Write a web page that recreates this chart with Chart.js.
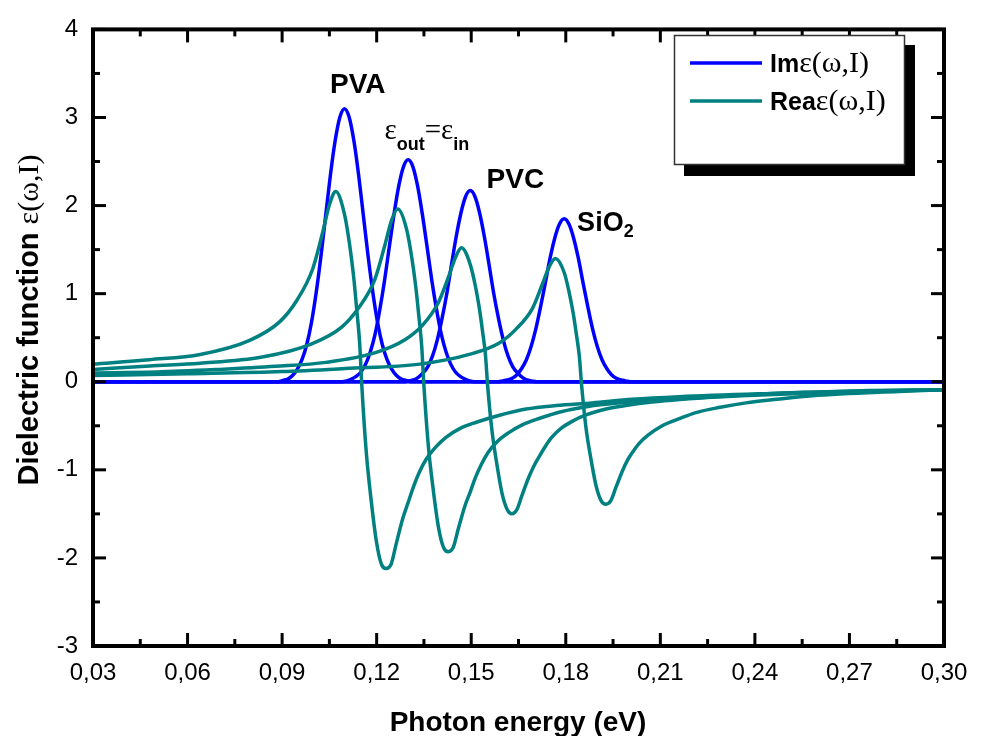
<!DOCTYPE html>
<html>
<head>
<meta charset="utf-8">
<script src="https://cdn.jsdelivr.net/npm/chart.js@4.4.0/dist/chart.umd.min.js"></script>
<style>
  body { margin: 0; background: #fff; }
  canvas { display: block; }
</style>
</head>
<body>
<canvas id="myChart" width="981" height="736"></canvas>
<script>
// axis ticks
const xTicks = [0.03, 0.06, 0.09, 0.12, 0.15, 0.18, 0.21, 0.24, 0.27, 0.30];
const xMinor = [0.045, 0.075, 0.105, 0.135, 0.165, 0.195, 0.225, 0.255, 0.285];
const yTicks = [-3, -2, -1, 0, 1, 2, 3, 4];
const yMinor = [-2.5, -1.5, -0.5, 0.5, 1.5, 2.5, 3.5];

// Im part, [photon energy, value]
const imPVA = [[0.03,0],[0.0888,0],[0.0903,0.015],[0.0918,0.03],[0.0933,0.07],[0.0948,0.14],[0.0963,0.25],[0.0978,0.42],[0.0993,0.67],[0.1008,1.01],[0.1023,1.42],[0.1038,1.88],[0.1053,2.34],[0.1068,2.73],[0.1083,3.00],[0.1098,3.10],[0.1113,3.00],[0.1128,2.73],[0.1143,2.34],[0.1158,1.88],[0.1173,1.42],[0.1188,1.01],[0.1203,0.67],[0.1218,0.42],[0.1233,0.25],[0.1248,0.14],[0.1263,0.07],[0.1278,0.03],[0.1293,0.015],[0.1308,0],[0.30,0]];
const imMid = [[0.03,0],[0.1090,0],[0.1105,0.01],[0.1120,0.03],[0.1135,0.06],[0.1150,0.11],[0.1165,0.20],[0.1180,0.34],[0.1195,0.54],[0.1210,0.82],[0.1225,1.15],[0.1240,1.53],[0.1255,1.90],[0.1270,2.22],[0.1285,2.44],[0.1300,2.52],[0.1315,2.44],[0.1330,2.22],[0.1345,1.90],[0.1360,1.53],[0.1375,1.15],[0.1390,0.82],[0.1405,0.54],[0.1420,0.34],[0.1435,0.20],[0.1450,0.11],[0.1465,0.06],[0.1480,0.03],[0.1495,0.01],[0.1510,0],[0.30,0]];
const imPVC = [[0.03,0],[0.1287,0],[0.1302,0.01],[0.1317,0.02],[0.1332,0.05],[0.1347,0.10],[0.1362,0.17],[0.1377,0.29],[0.1392,0.47],[0.1407,0.71],[0.1422,0.99],[0.1437,1.32],[0.1452,1.64],[0.1467,1.91],[0.1482,2.10],[0.1497,2.17],[0.1512,2.10],[0.1527,1.91],[0.1542,1.64],[0.1557,1.32],[0.1572,0.99],[0.1587,0.71],[0.1602,0.47],[0.1617,0.29],[0.1632,0.17],[0.1647,0.10],[0.1662,0.05],[0.1677,0.02],[0.1692,0.01],[0.1707,0],[0.30,0]];
const imSiO2 = [[0.03,0],[0.1585,0],[0.1600,0.01],[0.1615,0.02],[0.1630,0.04],[0.1645,0.08],[0.1660,0.15],[0.1675,0.25],[0.1690,0.40],[0.1705,0.60],[0.1720,0.85],[0.1735,1.12],[0.1750,1.40],[0.1765,1.63],[0.1780,1.79],[0.1795,1.85],[0.1810,1.79],[0.1825,1.63],[0.1840,1.40],[0.1855,1.12],[0.1870,0.85],[0.1885,0.60],[0.1900,0.40],[0.1915,0.25],[0.1930,0.15],[0.1945,0.08],[0.1960,0.04],[0.1975,0.02],[0.1990,0.01],[0.2005,0],[0.30,0]];

// Re part
const rePVA = [[0.030,0.20],[0.048,0.25],[0.064,0.31],[0.0797,0.47],[0.0892,0.68],[0.0946,0.92],[0.0997,1.28],[0.1029,1.70],[0.1051,2.02],[0.1070,2.16],[0.1098,1.90],[0.1114,1.56],[0.1127,1.19],[0.1137,0.81],[0.1146,0.44],[0.1153,-0.05],[0.1167,-0.80],[0.1183,-1.36],[0.1199,-1.81],[0.1215,-2.07],[0.1230,-2.12],[0.1246,-2.07],[0.1262,-1.84],[0.1283,-1.55],[0.1300,-1.37],[0.1315,-1.21],[0.1335,-1.03],[0.1357,-0.88],[0.1385,-0.75],[0.1421,-0.63],[0.1465,-0.53],[0.1516,-0.46],[0.1590,-0.38],[0.1674,-0.31],[0.1770,-0.27],[0.1884,-0.24],[0.2010,-0.20],[0.2160,-0.17],[0.2476,-0.13],[0.2762,-0.10],[0.300,-0.09]];
const reMid = [[0.030,0.14],[0.048,0.18],[0.064,0.21],[0.0837,0.28],[0.0994,0.43],[0.1089,0.62],[0.1143,0.84],[0.1194,1.16],[0.1226,1.55],[0.1248,1.84],[0.1267,1.96],[0.1295,1.73],[0.1311,1.42],[0.1324,1.08],[0.1334,0.74],[0.1343,0.40],[0.1350,-0.05],[0.1364,-0.73],[0.1380,-1.24],[0.1396,-1.65],[0.1412,-1.88],[0.1427,-1.93],[0.1443,-1.88],[0.1459,-1.67],[0.1480,-1.41],[0.1497,-1.25],[0.1512,-1.10],[0.1532,-0.94],[0.1554,-0.80],[0.1582,-0.68],[0.1618,-0.58],[0.1662,-0.49],[0.1713,-0.42],[0.1785,-0.34],[0.1871,-0.28],[0.1970,-0.24],[0.2081,-0.21],[0.2357,-0.16],[0.2650,-0.12],[0.300,-0.09]];
const rePVC = [[0.030,0.10],[0.050,0.11],[0.070,0.14],[0.0879,0.175],[0.1039,0.22],[0.1196,0.33],[0.1291,0.48],[0.1345,0.64],[0.1396,0.90],[0.1428,1.19],[0.1450,1.41],[0.1469,1.52],[0.1497,1.33],[0.1513,1.09],[0.1526,0.83],[0.1536,0.57],[0.1545,0.31],[0.1552,-0.04],[0.1566,-0.56],[0.1582,-0.95],[0.1598,-1.27],[0.1614,-1.45],[0.1629,-1.50],[0.1645,-1.45],[0.1661,-1.29],[0.1682,-1.09],[0.1697,-0.97],[0.1714,-0.86],[0.1734,-0.74],[0.1756,-0.63],[0.1785,-0.53],[0.1820,-0.45],[0.1862,-0.38],[0.1915,-0.32],[0.1990,-0.27],[0.2073,-0.23],[0.2283,-0.17],[0.2559,-0.12],[0.300,-0.09]];
const reSiO2 = [[0.030,0.07],[0.060,0.09],[0.090,0.115],[0.110,0.15],[0.1337,0.20],[0.1494,0.31],[0.1589,0.44],[0.1643,0.60],[0.1694,0.83],[0.1726,1.11],[0.1748,1.31],[0.1767,1.40],[0.1795,1.24],[0.1811,1.01],[0.1824,0.77],[0.1834,0.53],[0.1843,0.29],[0.1850,-0.03],[0.1864,-0.52],[0.1880,-0.88],[0.1896,-1.18],[0.1912,-1.35],[0.1927,-1.39],[0.1943,-1.35],[0.1959,-1.20],[0.1980,-1.01],[0.1996,-0.89],[0.2012,-0.80],[0.2033,-0.70],[0.2060,-0.61],[0.2106,-0.50],[0.2160,-0.42],[0.2213,-0.35],[0.2290,-0.29],[0.2372,-0.24],[0.2470,-0.20],[0.2581,-0.16],[0.2857,-0.11],[0.300,-0.09]];

const blue = "#0000ff";
const teal = "#008080";
const sans = '"Liberation Sans", Arial, sans-serif';
const serif = '"Liberation Serif", "Times New Roman", serif';

const line = (data, color, order) => ({
  data: data,
  borderColor: color,
  backgroundColor: color,
  borderWidth: 3.5,
  pointRadius: 0,
  cubicInterpolationMode: "monotone",
  order: order,
});

// frame with inward ticks on all four sides
const axisFrame = {
  id: "axisFrame",
  afterDatasetsDraw(chart) {
    const { ctx, chartArea: a } = chart;
    const sx = chart.scales.x, sy = chart.scales.y;
    ctx.save();
    ctx.strokeStyle = "#000";
    ctx.lineWidth = 3;
    const seg = (x1, y1, x2, y2) => {
      ctx.beginPath();
      ctx.moveTo(x1, y1);
      ctx.lineTo(x2, y2);
      ctx.stroke();
    };
    xTicks.forEach((v) => {
      const p = sx.getPixelForValue(v);
      seg(p, a.bottom, p, a.bottom - 13);
      seg(p, a.top, p, a.top + 13);
    });
    xMinor.forEach((v) => {
      const p = sx.getPixelForValue(v);
      seg(p, a.bottom, p, a.bottom - 7);
      seg(p, a.top, p, a.top + 7);
    });
    yTicks.forEach((v) => {
      const p = sy.getPixelForValue(v);
      seg(a.left, p, a.left + 13, p);
      seg(a.right, p, a.right - 13, p);
    });
    yMinor.forEach((v) => {
      const p = sy.getPixelForValue(v);
      seg(a.left, p, a.left + 7, p);
      seg(a.right, p, a.right - 7, p);
    });
    ctx.lineWidth = 4;
    ctx.lineJoin = "miter";
    ctx.strokeRect(a.left, a.top, a.right - a.left, a.bottom - a.top);
    ctx.restore();
  },
};

const labels = {
  id: "labels",
  afterDraw(chart) {
    const ctx = chart.ctx;
    const sx = chart.scales.x, sy = chart.scales.y;
    ctx.save();
    ctx.fillStyle = "#000";
    ctx.textBaseline = "alphabetic";

    // x title
    ctx.font = "bold 28px " + sans;
    ctx.textAlign = "center";
    ctx.fillText("Photon energy (eV)", 518, 731);

    // y title (mixed fonts)
    ctx.textAlign = "left";
    ctx.translate(38, 320);
    ctx.rotate(-Math.PI / 2);
    ctx.font = "bold 29px " + sans;
    const t1 = "Dielectric function ";
    const w1 = ctx.measureText(t1).width;
    ctx.font = "30px " + serif;
    const t2 = "ε(ω,I)";
    const w2 = ctx.measureText(t2).width;
    let x0 = -(w1 + w2) / 2;
    ctx.font = "bold 29px " + sans;
    ctx.fillText(t1, x0, 0);
    ctx.font = "30px " + serif;
    ctx.fillText(t2, x0 + w1, 0);
    ctx.setTransform(1, 0, 0, 1, 0, 0);

    // annotations
    ctx.textAlign = "center";
    ctx.font = "bold 28px " + sans;
    ctx.fillText("PVA", sx.getPixelForValue(0.114), sy.getPixelForValue(3.28));
    ctx.fillText("PVC", sx.getPixelForValue(0.164), sy.getPixelForValue(2.2));

    ctx.textAlign = "left";
    let px = sx.getPixelForValue(0.1836), py = sy.getPixelForValue(1.71);
    ctx.font = "bold 27px " + sans;
    ctx.fillText("SiO", px, py);
    px += ctx.measureText("SiO").width;
    ctx.font = "bold 18px " + sans;
    ctx.fillText("2", px, py + 6);

    px = sx.getPixelForValue(0.1225);
    py = sy.getPixelForValue(2.76);
    ctx.font = "29px " + serif;
    ctx.fillText("ε", px, py);
    px += ctx.measureText("ε").width;
    ctx.font = "bold 18px " + sans;
    ctx.fillText("out", px, py + 11);
    px += ctx.measureText("out").width;
    ctx.font = "29px " + serif;
    ctx.fillText("=ε", px, py);
    px += ctx.measureText("=ε").width;
    ctx.font = "bold 18px " + sans;
    ctx.fillText("in", px, py + 11);

    // legend with drop shadow
    ctx.fillStyle = "#000";
    ctx.fillRect(684, 45, 231, 131);
    ctx.fillStyle = "#fff";
    ctx.fillRect(674, 35, 231, 130);
    ctx.strokeStyle = "#333";
    ctx.lineWidth = 1.5;
    ctx.strokeRect(674.5, 35.5, 230, 129);
    [["Im", blue, 63], ["Rea", teal, 101]].forEach(([name, color, y]) => {
      ctx.strokeStyle = color;
      ctx.lineWidth = 3.5;
      ctx.beginPath();
      ctx.moveTo(690, y);
      ctx.lineTo(762, y);
      ctx.stroke();
      ctx.fillStyle = "#000";
      ctx.font = "bold 25px " + sans;
      ctx.fillText(name, 770, y + 9);
      const w = ctx.measureText(name).width;
      ctx.font = "30px " + serif;
      ctx.fillText("ε(ω,I)", 770 + w, y + 9);
    });
    ctx.restore();
  },
};

const ctx = document.getElementById("myChart");
new Chart(ctx, {
  type: "line",
  data: {
    datasets: [
      line(imPVA, blue, 1),
      line(imMid, blue, 1),
      line(imPVC, blue, 1),
      line(imSiO2, blue, 1),
      line(rePVA, teal, 0),
      line(reMid, teal, 0),
      line(rePVC, teal, 0),
      line(reSiO2, teal, 0),
    ],
  },
  options: {
    responsive: false,
    animation: false,
    layout: { padding: { left: 0, right: 37, top: 23, bottom: 0 } },
    plugins: { legend: { display: false }, tooltip: { enabled: false } },
    scales: {
      x: {
        type: "linear",
        min: 0.03,
        max: 0.3,
        grid: { display: false, drawTicks: false },
        border: { display: false },
        afterBuildTicks: (s) => { s.ticks = xTicks.map((v) => ({ value: v })); },
        afterFit: (s) => { s.height = 90; },
        ticks: {
          padding: 13,
          color: "#000",
          font: { family: sans, size: 24 },
          callback: (v) => Number(v).toFixed(2).replace(".", ","),
        },
      },
      y: {
        min: -3,
        max: 4,
        grid: { display: false, drawTicks: false },
        border: { display: false },
        afterBuildTicks: (s) => { s.ticks = yTicks.map((v) => ({ value: v })); },
        afterFit: (s) => { s.width = 93; },
        ticks: {
          padding: 15,
          color: "#000",
          font: { family: sans, size: 24 },
          callback: (v) => String(v),
        },
      },
    },
  },
  plugins: [axisFrame, labels],
});
</script>
</body>
</html>
